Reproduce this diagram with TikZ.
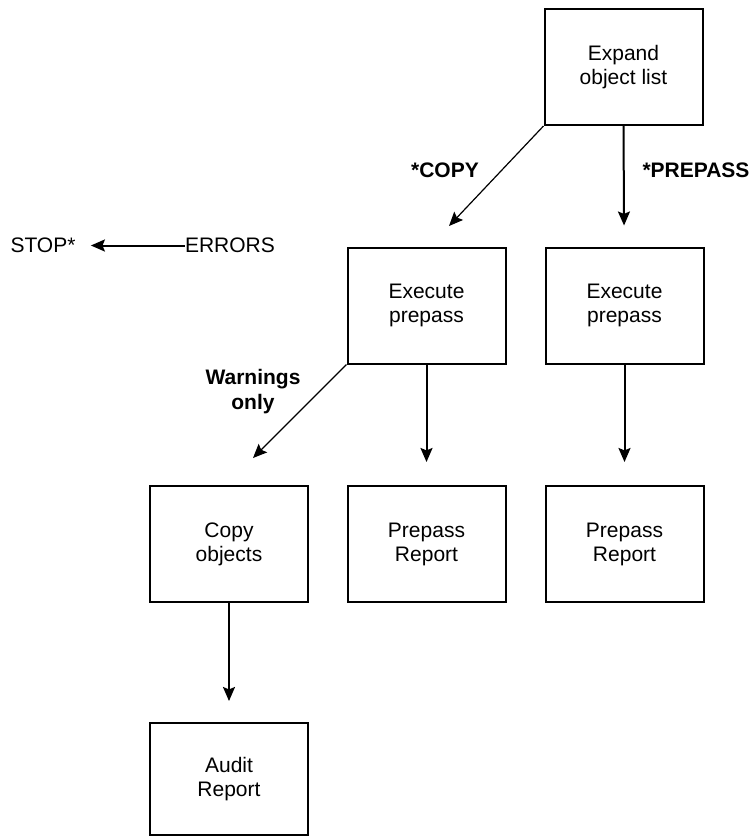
\documentclass[tikz,border=0pt]{standalone}
\usepackage{xcolor}
\usepackage{fontspec}
\setmainfont{Liberation Sans}
\usepackage{tikz}
\usetikzlibrary{arrows.meta,positioning}

\begin{document}
\begin{tikzpicture}[
x=0.5pt, y=-0.5pt,
box/.style={draw, line width=1pt, minimum width=79pt, minimum height=58pt, align=center, inner sep=0pt, font=\fontsize{10.5}{12}\selectfont},
lbl/.style={inner sep=0pt, align=center, font=\fontsize{10.5}{12}\selectfont},
blbl/.style={inner sep=0pt, align=center, font=\fontsize{10.5}{12.5}\selectfont\bfseries},
arr/.style={-{Stealth[length=7pt,width=6pt,inset=1.2pt]}, line width=1pt},
darr/.style={-{Stealth[length=7pt,width=6pt,inset=1.2pt]}, line width=0.6pt}
]
\useasboundingbox (0,0) rectangle (755,837);

\node[box] (expand) at (623.5,67) {Expand\\object list};
\node[box] (execcopy) at (426.5,305.5) {Execute\\prepass};
\node[box] (execpre) at (624.5,305.5) {Execute\\prepass};
\node[box] (copyobj) at (229,544) {Copy\\objects};
\node[box] (repcopy) at (426.5,544) {Prepass\\Report};
\node[box] (reppre) at (624.5,544) {Prepass\\Report};
\node[box, minimum height=56pt] (audit) at (229,779) {Audit\\Report};

\node[blbl] (copylbl) at (445,170) {*COPY};
\node[blbl] (prelbl) at (696,170) {*PREPASS};
\node[blbl] (warnlbl) at (253,392) {Warnings\\only};
\node[lbl] (stop) at (43,245.5) {STOP*};
\node[lbl] (errors) at (230,245.5) {ERRORS};

\coordinate (copyend) at (449,226);
\coordinate (warnend) at (253,458);

\draw[darr] (expand.south west) -- (copyend);
\draw[arr, shorten >=10.5pt] (expand.south) -- (execpre);
\draw[arr, shorten >=7.5pt] (errors.west) -- (stop.east);
\draw[darr] (execcopy.south west) -- (warnend);
\draw[arr, shorten >=11.5pt] (execcopy.south) -- (repcopy);
\draw[arr, shorten >=11.5pt] (execpre.south) -- (reppre);
\draw[arr, shorten >=10.5pt] (copyobj.south) -- (audit);
\end{tikzpicture}
\end{document}
